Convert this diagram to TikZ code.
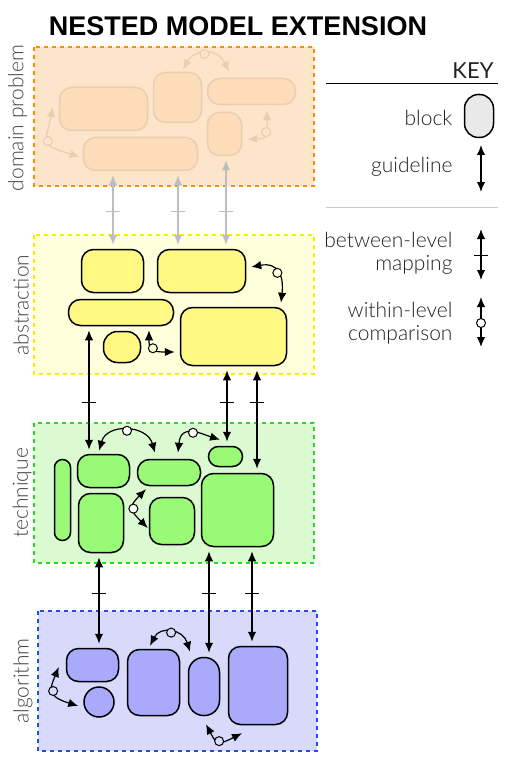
\documentclass[tikz,border=0pt]{standalone}
\usepackage{fontspec}
\setmainfont{Lato}[UprightFont={* Light}]
\newfontfamily\keyfont{Lato}
\newfontfamily\titlefont{Liberation Sans}
\usetikzlibrary{arrows.meta,calc}

\definecolor{dpfill}{HTML}{FDE5CB}
\definecolor{dpline}{HTML}{FF8C00}
\definecolor{dpblk}{HTML}{FCDCB9}
\definecolor{dpfaint}{HTML}{E9CEAF}
\definecolor{guidegray}{HTML}{BDBDBD}
\definecolor{abfill}{HTML}{FFFFDC}
\definecolor{abline}{HTML}{FFE900}
\definecolor{abblk}{HTML}{FFF983}
\definecolor{tefill}{HTML}{DCFAD2}
\definecolor{teline}{HTML}{22DD22}
\definecolor{teblk}{HTML}{98FA77}
\definecolor{alfill}{HTML}{D8D9FB}
\definecolor{alline}{HTML}{1D4FF0}
\definecolor{alblk}{HTML}{AAAAFC}
\definecolor{keyfill}{HTML}{E9E9E9}
\definecolor{lblgray}{HTML}{444444}
\definecolor{keygray}{HTML}{222222}
\definecolor{rulegray}{HTML}{CCCCCC}

\begin{document}
\begin{tikzpicture}[x=1pt,y=-1pt,
    blk/.style={draw,line width=1.5pt,rounded corners=12pt,inner sep=0pt},
    dblk/.style={blk,draw=dpfaint,fill=dpblk},
    ablk/.style={blk,fill=abblk},
    tblk/.style={blk,fill=teblk},
    gblk/.style={blk,fill=alblk},
    lvl/.style={line width=2pt,dash pattern=on 4pt off 4pt},
    lbl/.style={rotate=90,text=lblgray,font=\fontsize{21}{23}\selectfont},
    keytxt/.style={anchor=east,align=right,text=keygray,font=\fontsize{21}{23}\selectfont},
    map/.style={{Latex[length=10pt,width=8.5pt]}-{Latex[length=10pt,width=8.5pt]},line width=1.5pt,shorten <=4pt,shorten >=4pt},
    cmp/.style={map,line width=1.2pt,shorten <=0pt,shorten >=0pt},
    cdot/.style={circle,draw,line width=1pt,fill=white,minimum size=9pt,inner sep=0pt},
    tick/.style={line width=1pt}]
  \useasboundingbox (0,0) rectangle (519,762);

  % ---- タイトル ----
  \node[anchor=base,font=\titlefont\bfseries\fontsize{27}{30}\selectfont] (title) at (238,36) {NESTED MODEL EXTENSION};

  % ---- domain problem の層（全体を薄く表示）----
  \draw[lvl,draw=dpline,fill=dpfill] (34,47) rectangle (314,186);
  \node[lbl] (dplbl) at (17.5,118) {domain problem};
  \node[dblk,minimum width=88pt,minimum height=43pt] (d1) at (103.5,109) {};
  \node[dblk,minimum width=48pt,minimum height=50pt] (d2) at (177.5,97.5) {};
  \node[dblk,minimum width=88pt,minimum height=26pt] (d3) at (251.5,91.5) {};
  \node[dblk,minimum width=34pt,minimum height=43pt] (d4) at (224.5,134) {};
  \node[dblk,minimum width=114pt,minimum height=33pt] (d5) at (140.5,154) {};
  % 層内の比較（白丸つきの曲線矢印）
  \draw[cmp,draw=dpfaint] ($(d2.north)+(5.5,-2)$) .. controls +(9,-18) and +(-13,-27) .. ($(d3.north)+(-22.5,-6)$)
    node[cdot,pos=.5,draw=dpfaint,fill=dpfill] (dc1) {};
  \draw[cmp,draw=dpfaint] ($(d1.west)+(-6,-2)$) .. controls +(-7,37) and +(-42,-13) .. ($(d5.west)+(-3,3)$)
    node[cdot,pos=.5,draw=dpfaint,fill=dpfill] (dc2) {};
  \draw[cmp,draw=dpfaint] ($(d3.south)+(15.5,5)$) .. controls +(0,20) and +(24,0) .. ($(d4.east)+(5,5)$)
    node[cdot,pos=.5,draw=dpfaint,fill=dpfill] (dc3) {};

  % ---- abstraction の層 ----
  \draw[lvl,draw=abline,fill=abfill] (34,235) rectangle (314,374);
  \node[lbl] (ablbl) at (21,305) {abstraction};
  \node[ablk,minimum width=62pt,minimum height=43pt] (a1) at (112.5,271) {};
  \node[ablk,minimum width=88pt,minimum height=43pt] (a2) at (201.5,271) {};
  \node[ablk,minimum width=105pt,minimum height=26pt] (a3) at (121,312.5) {};
  \node[ablk,minimum width=37pt,minimum height=31pt,rounded corners=14pt] (a4) at (122,347) {};
  \node[ablk,minimum width=106pt,minimum height=58pt] (a5) at (233.5,336.5) {};
  \draw[cmp] ($(a2.east)+(5,-4)$) .. controls +(27,-5) and +(3,-27) .. ($(a5.north)+(47.5,-4)$)
    node[cdot,pos=.5,fill=abfill] (ac1) {};
  \draw[cmp] ($(a3.south)+(28,4)$) .. controls +(0,19) and +(-24,0) .. ($(a5.west)+(-5,15.5)$)
    node[cdot,pos=.5,fill=abfill] (ac2) {};

  % ---- technique の層 ----
  \draw[lvl,draw=teline,fill=tefill] (34,423) rectangle (314,563);
  \node[lbl] (telbl) at (22,493) {technique};
  \node[tblk,minimum width=16pt,minimum height=81pt,rounded corners=8pt] (t1) at (62.5,500) {};
  \node[tblk,minimum width=52pt,minimum height=33pt] (t2) at (103.5,471) {};
  \node[tblk,minimum width=45pt,minimum height=59pt] (t3) at (101,523) {};
  \node[tblk,minimum width=63pt,minimum height=26pt] (t4) at (169,472.5) {};
  \node[tblk,minimum width=45pt,minimum height=47pt] (t5) at (172,521) {};
  \node[tblk,minimum width=34pt,minimum height=20pt,rounded corners=10pt] (t6) at (225.5,456.5) {};
  \node[tblk,minimum width=72pt,minimum height=73pt] (t7) at (237.5,510) {};
  \draw[cmp] ($(t2.north)+(-4.5,-3)$) .. controls +(8,-28) and +(-8,-28) .. ($(t4.north)+(-14,-6)$)
    node[cdot,pos=.5] (tc1) {};
  \draw[cmp] ($(t4.north)+(9,-6)$) .. controls +(3,-30) and +(-19,-6) .. ($(t6.north)+(-5.5,-6)$)
    node[cdot,pos=.5] (tc2) {};
  \draw[cmp] ($(t4.south)+(-23,3)$) .. controls +(-18,18) and +(-18,-18) .. ($(t5.west)+(-1,7)$)
    node[cdot,pos=.5] (tc3) {};

  % ---- algorithm の層 ----
  \draw[lvl,draw=alline,fill=alfill] (38,611) rectangle (317,751);
  \node[lbl] (allbl) at (23,681) {algorithm};
  \node[gblk,minimum width=52pt,minimum height=33pt] (g1) at (92.5,665) {};
  \node[gblk,circle,minimum size=30pt] (g2) at (99,702) {};
  \node[gblk,minimum width=52pt,minimum height=66pt] (g3) at (153.5,682.5) {};
  \node[gblk,minimum width=31pt,minimum height=58pt,rounded corners=15pt] (g4) at (204,686.5) {};
  \node[gblk,minimum width=59pt,minimum height=78pt] (g5) at (258,685.5) {};
  \draw[cmp] ($(g1.west)+(-7,2)$) .. controls +(-9,22) and +(-32,-10) .. ($(g2.west)+(-5,4)$)
    node[cdot,pos=.5,fill=alfill] (gc1) {};
  \draw[cmp] ($(g3.north)+(-3.5,-3)$) .. controls +(10,-20) and +(-7,-23) .. ($(g4.north)+(-14,-5)$)
    node[cdot,pos=.5,fill=alfill] (gc2) {};
  \draw[cmp] ($(g4.south)+(2,8)$) .. controls +(11,21) and +(-24,12) .. ($(g5.south)+(-16,8)$)
    node[cdot,pos=.5,fill=alfill] (gc3) {};

  % ---- 層と層の対応（横線つきの両矢印）----
  \foreach \x/\a/\b in {113/d5/a1,178/d5/a2,226/d4/a2} {
    \draw[map,draw=guidegray] (\a.south -| \x,0) -- (\b.north -| \x,0);
    \draw[tick,draw=guidegray] (\x-7,211) -- (\x+7,211);
  }
  \foreach \x/\a/\b in {89/a3/t2,227/a5/t6,257/a5/t7} {
    \draw[map] (\a.south -| \x,0) -- (\b.north -| \x,0);
    \draw[tick] (\x-7,402) -- (\x+7,402);
  }
  \foreach \x/\a/\b in {99/t3/g1,209/t7/g4,252/t7/g5} {
    \draw[map] (\a.south -| \x,0) -- (\b.north -| \x,0);
    \draw[tick] (\x-7,593) -- (\x+7,593);
  }

  % ---- 凡例（KEY）----
  \node[anchor=base east,text=keygray,font=\keyfont\fontsize{22}{24}\selectfont] (keyttl) at (497,79) {KEY};
  \draw[line width=1pt] (326,84) -- (498,84);
  \node[blk,fill=keyfill,minimum width=29pt,minimum height=43pt,rounded corners=14pt] (kblk) at (479,116) {};
  \node[keytxt] (kblktxt) at (456,118) {block};
  \coordinate (kg1) at (481,145);
  \coordinate (kg2) at (481,192);
  \draw[map,shorten <=0pt,shorten >=0pt] (kg1) -- (kg2);
  \node[keytxt] (kgtxt) at (456,167) {guideline};
  \draw[line width=1pt,draw=rulegray] (326,207) -- (498,207);
  \coordinate (km1) at (481,229);
  \coordinate (km2) at (481,280);
  \draw[map,shorten <=0pt,shorten >=0pt] (km1) -- (km2);
  \draw[tick] (474,255) -- (488,255);
  \node[keytxt] (kmtxt) at (456,253.5) {between-level\\mapping};
  \coordinate (kc1) at (481,297);
  \coordinate (kc2) at (481,347);
  \draw[map,shorten <=0pt,shorten >=0pt] (kc1) -- (kc2) node[cdot,pos=.52] (kcdot) {};
  \node[keytxt] (kctxt) at (456,323.5) {within-level\\comparison};
\end{tikzpicture}
\end{document}
